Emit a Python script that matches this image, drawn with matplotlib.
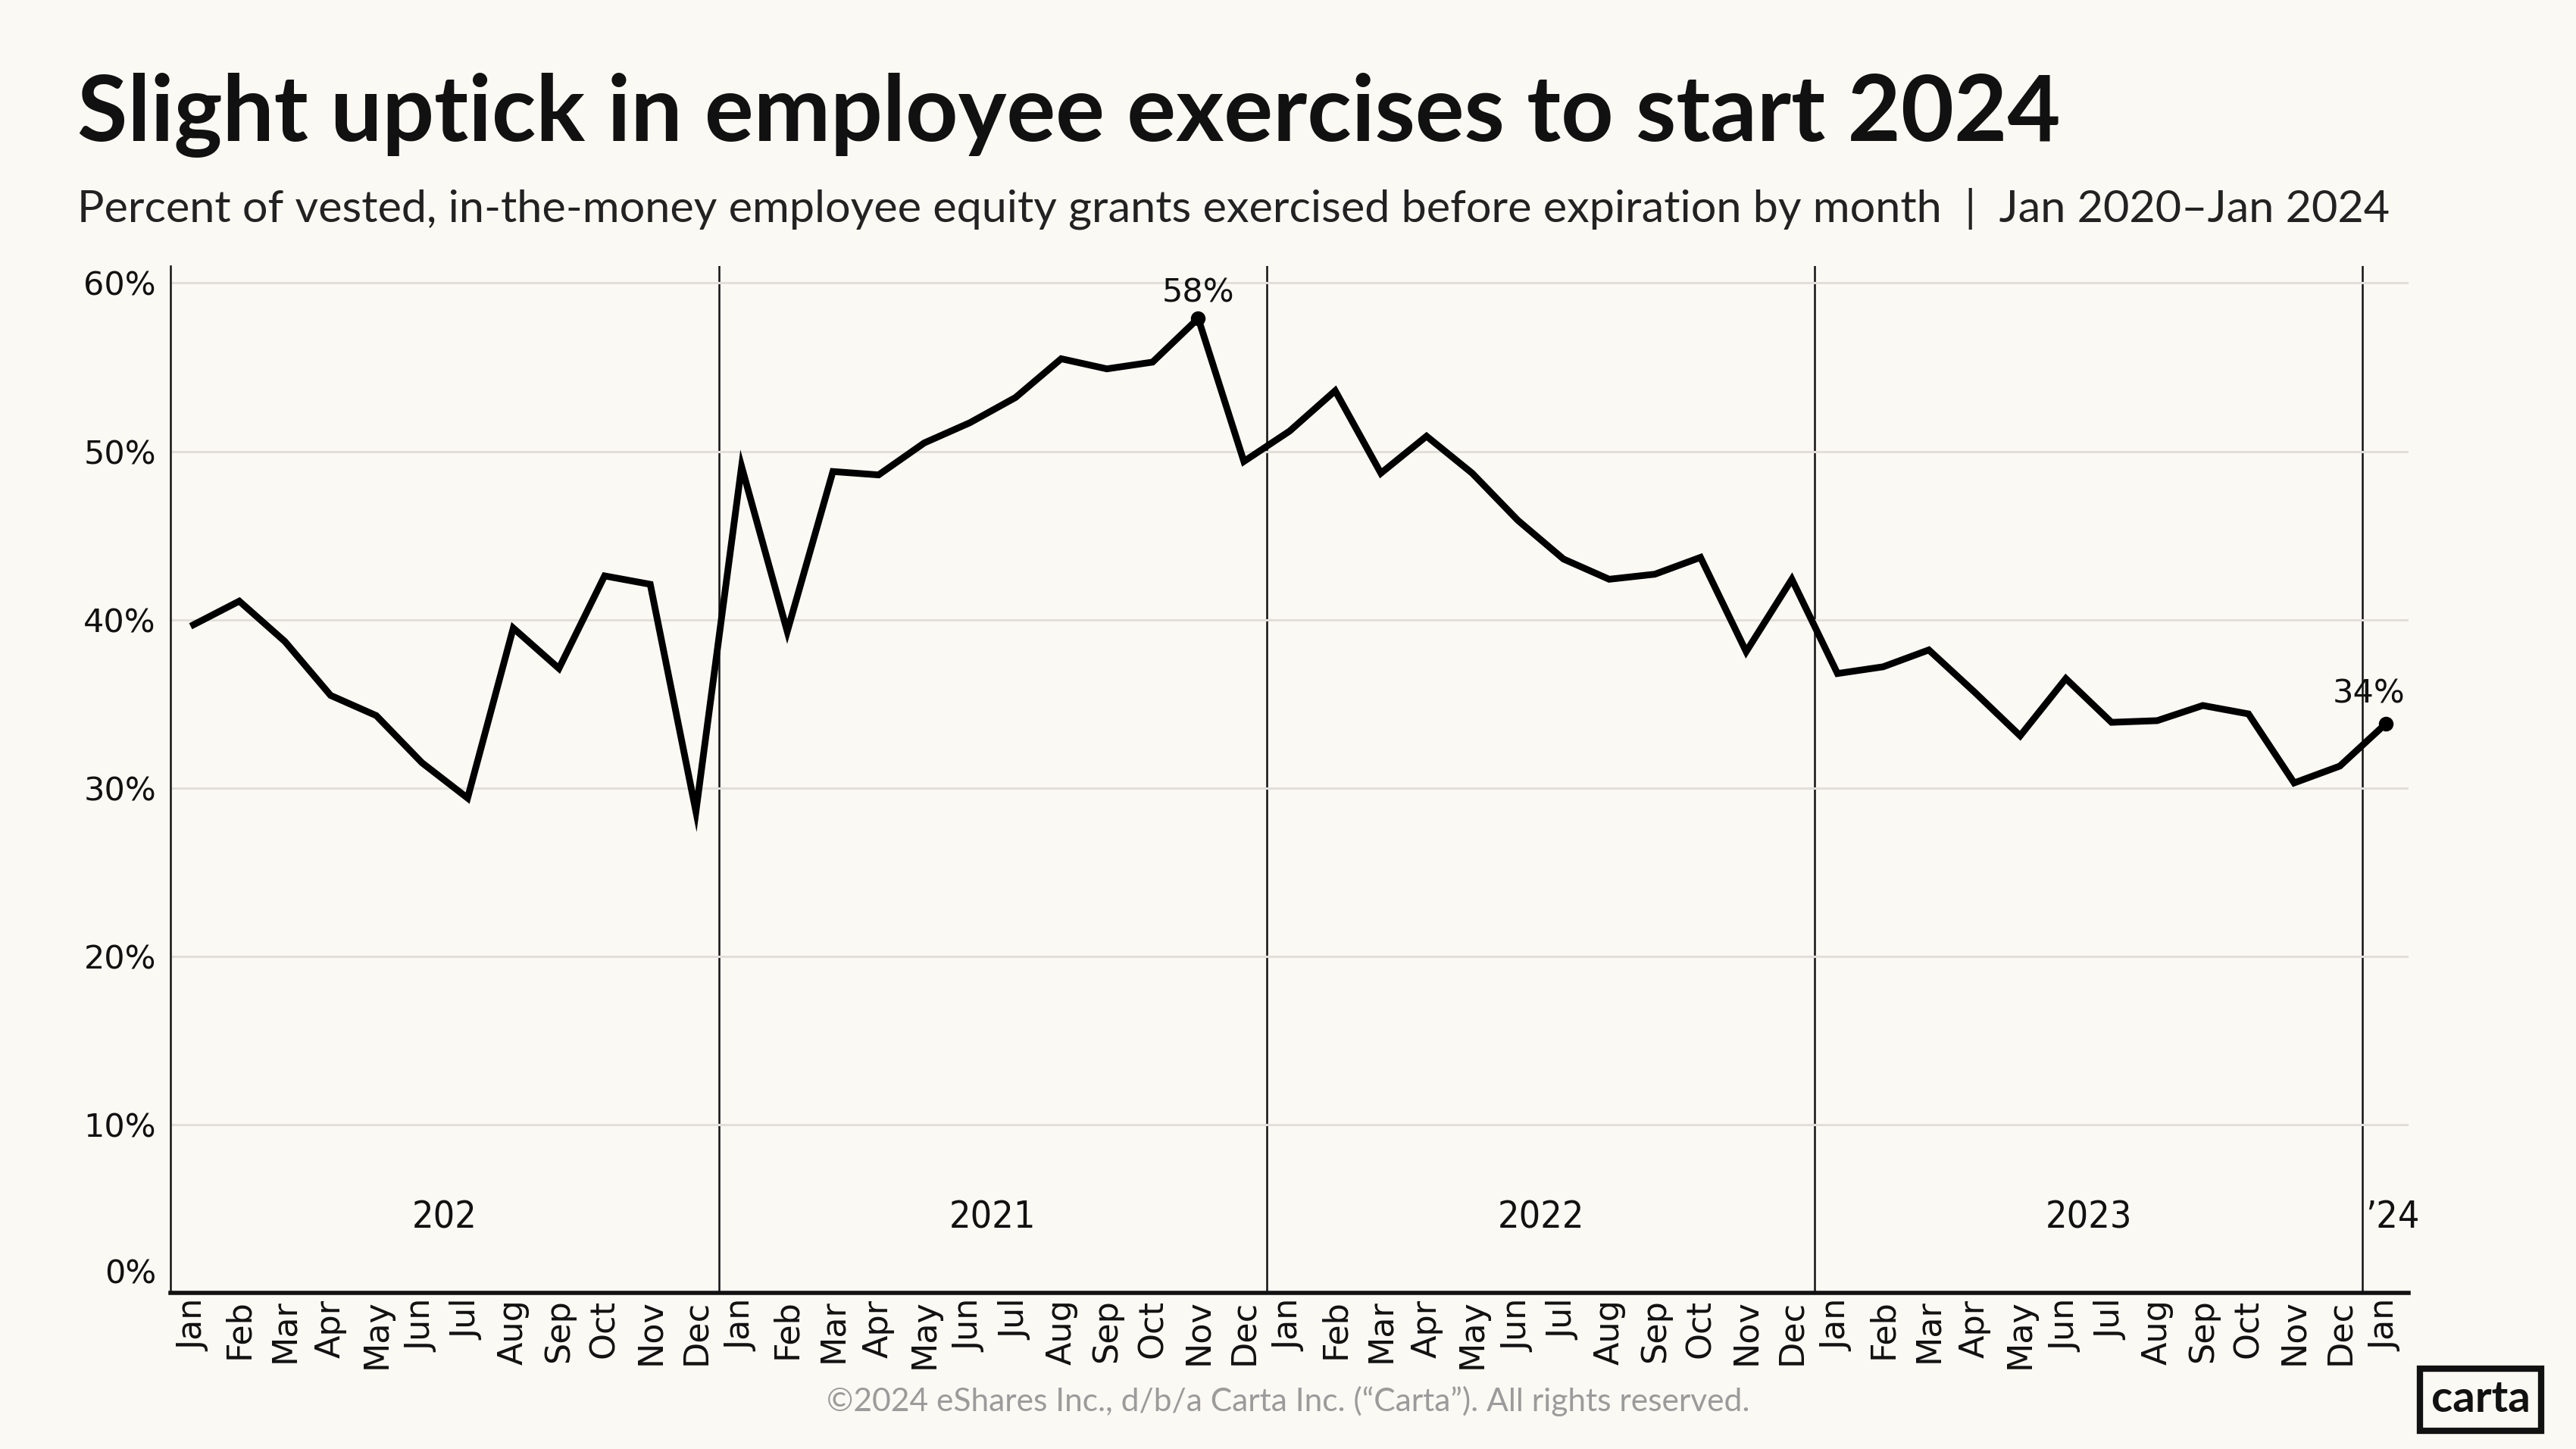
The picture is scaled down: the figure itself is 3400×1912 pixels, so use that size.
import matplotlib
matplotlib.use('Agg')
import matplotlib.pyplot as plt
from matplotlib.ticker import FixedLocator

# ---------------- data ----------------
month_labels = ['Jan', 'Feb', 'Mar', 'Apr', 'May', 'Jun', 'Jul', 'Aug', 'Sep', 'Oct', 'Nov', 'Dec'] * 4 + ['Jan']
values_2020 = [39.7, 41.1, 38.7, 35.5, 34.3, 31.5, 29.4, 39.5, 37.1, 42.6, 42.1, 28.6]
values_2021 = [49.1, 39.3, 48.8, 48.6, 50.5, 51.7, 53.2, 55.5, 54.9, 55.3, 57.9, 49.4]
values_2022 = [51.2, 53.6, 48.7, 50.9, 48.7, 45.9, 43.6, 42.4, 42.7, 43.7, 38.1, 42.4]
values_2023 = [36.8, 37.2, 38.2, 35.7, 33.1, 36.5, 33.9, 34.0, 34.9, 34.4, 30.3, 31.3]
values_2024 = [33.8]
year_labels = ['202', '2021', '2022', '2023', '\u201924']
year_label_pos = [5.5, 17.5, 29.5, 41.5, 48.15]
year_bounds = [11.5, 23.5, 35.5, 47.5]
y_ticks = [10, 20, 30, 40, 50, 60]
y_tick_labels = ['10%', '20%', '30%', '40%', '50%', '60%']
peak_label = '58%'
last_label = '34%'

values = values_2020 + values_2021 + values_2022 + values_2023 + values_2024
x = list(range(len(values)))

BG = '#FBF9F3'
GRID = '#E2DFDA'
TXT = '#111111'
LABEL_FONT = ['DejaVu Sans']

plt.rcParams['font.family'] = ['Lato', 'DejaVu Sans']

fig = plt.figure(figsize=(17, 9.56), dpi=200, facecolor=BG)
ax = fig.add_axes([0.0663, 0.1077, 0.8686, 0.7086])
ax.set_facecolor(BG)

# gridlines
ax.set_ylim(0, 61)
ax.set_xlim(-0.5, len(values) - 0.5)
ax.yaxis.set_major_locator(FixedLocator(y_ticks))
ax.set_yticklabels(y_tick_labels, fontfamily=LABEL_FONT)
ax.grid(axis='y', color=GRID, linewidth=1.1, zorder=0)
ax.grid(axis='x', visible=False)

# year separators
for b in year_bounds:
    ax.axvline(b, color='#111111', linewidth=0.9, zorder=1)

# main line
ax.plot(x, values, color='#000000', linewidth=3.2, solid_joinstyle='miter', zorder=3)

# highlighted points
i_peak = values.index(max(values))
i_last = len(values) - 1
ax.plot([x[i_peak], x[i_last]], [values[i_peak], values[i_last]], 'o',
        color='#000000', markersize=6, zorder=4)
ax.annotate(peak_label, (x[i_peak], values[i_peak]), xytext=(0, 12),
            textcoords='offset points', ha='center', va='center',
            fontsize=15.5, color=TXT, fontfamily=LABEL_FONT, zorder=5)
ax.annotate(last_label, (x[i_last], values[i_last]), xytext=(-8, 14.5),
            textcoords='offset points', ha='center', va='center',
            fontsize=15.5, color=TXT, fontfamily=LABEL_FONT, zorder=5)

# year labels
for lab, pos in zip(year_labels, year_label_pos):
    ax.text(pos, 4.5, lab, ha='center', va='center', fontsize=18,
            color=TXT, fontfamily=['DejaVu Sans'], fontstretch='condensed',
            fontweight='light')

# axes styling
for s in ['top', 'right']:
    ax.spines[s].set_visible(False)
ax.spines['left'].set_linewidth(0.9)
ax.spines['left'].set_color('#111111')
ax.spines['bottom'].set_linewidth(2.0)
ax.spines['bottom'].set_color('#111111')

ax.set_xticks(x)
ax.set_xticklabels(month_labels, rotation=90, fontsize=16,
                   fontfamily=LABEL_FONT, color=TXT)
ax.tick_params(axis='x', length=0, pad=3)
ax.tick_params(axis='y', length=0, pad=7, labelsize=15.5, labelcolor=TXT)

# 0% label (slightly raised)
ax.annotate('0%', xy=(0, 0), xycoords=('axes fraction', 'data'),
            xytext=(-7, 9), textcoords='offset points', ha='right',
            va='center', fontsize=15.5, color=TXT, fontfamily=LABEL_FONT)

# titles
fig.text(0.030, 0.9025, 'Slight uptick in employee exercises to start 2024',
         fontsize=43.6, fontweight='bold', color='#111111', ha='left',
         va='baseline')
fig.text(0.030, 0.847,
         'Percent of vested, in-the-money employee equity grants exercised before expiration by month  |  Jan 2020\u2013Jan 2024',
         fontsize=21.4, fontweight='normal', color='#222222', ha='left',
         va='baseline')

# footer
fig.text(0.5, 0.033,
         '\u00a92024 eShares Inc., d/b/a Carta Inc. (\u201cCarta\u201d). All rights reserved.',
         fontsize=15.3, color='#9B9B9B', ha='center', va='center')

# logo
fig.text(0.963, 0.034, 'carta', fontsize=21, fontweight='bold', color='#111111',
         ha='center', va='center',
         bbox=dict(boxstyle='square,pad=0.25', facecolor=BG, edgecolor='#111111',
                   linewidth=3))

fig.savefig('out.png', dpi=200, facecolor=BG)
